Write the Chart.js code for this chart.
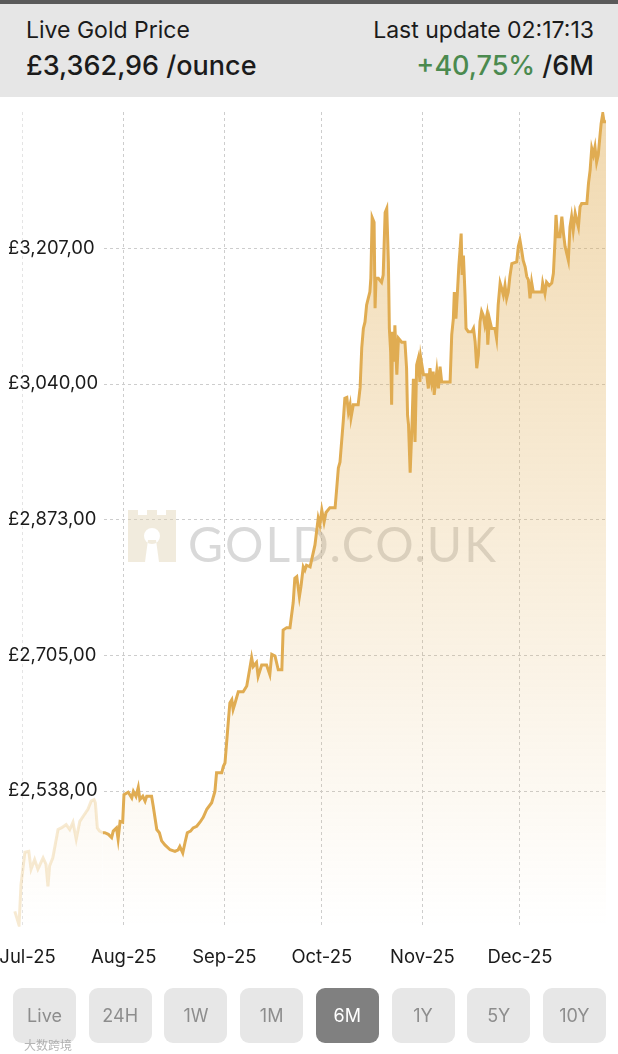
<!DOCTYPE html>
<html>
<head>
<meta charset="utf-8">
<script src="https://cdn.jsdelivr.net/npm/chart.js@4.4.1/dist/chart.umd.min.js"></script>
<style>
    body {
        margin: 0;
        width: 618px;
        height: 1054px;
        position: relative;
        overflow: hidden;
        background: #fff;
        font-family: Inter, "Noto Sans", sans-serif;
        color: #1b1b1b;
    }
    #topBar { position: absolute; left: 0; top: 0; width: 618px; height: 4px; background: #5a5a5a; }
    #header { position: absolute; left: 0; top: 4px; width: 618px; height: 93px; background: #e6e6e6; }
    .txt { position: absolute; white-space: nowrap; line-height: 1; }
    #title { left: 26px; top: 15px; font-size: 23px; }
    #price { left: 26px; top: 48px; font-size: 27px; font-weight: 500; }
    #updated { right: 24px; top: 15px; font-size: 23px; }
    #change { right: 24px; top: 48px; font-size: 27px; font-weight: 500; }
    #change .up { color: #4b8a4f; }
    #chartBox { position: absolute; left: 0; top: 97px; width: 618px; height: 892px; }
    #buttons {
        position: absolute; left: 13px; top: 988px; width: 593px; height: 55px;
        display: flex; justify-content: space-between;
    }
    .btn {
        width: 63px; height: 55px; border-radius: 9px; background: #e7e7e7;
        color: #8d8d8d; font-size: 18px; display: flex; align-items: center; justify-content: center;
    }
    .btn.active { background: #808080; color: #fff; }
    #source {
        position: absolute; left: 24px; top: 1036px; font-size: 12px;
        font-family: "Noto Sans CJK SC", sans-serif; color: rgba(150, 150, 150, 0.7);
    }
</style>
</head>
<body>
<div id="topBar"></div>
<div id="header">
    <div class="txt" id="title">Live Gold Price</div>
    <div class="txt" id="price">£3,362,96 /ounce</div>
    <div class="txt" id="updated">Last update 02:17:13</div>
    <div class="txt" id="change"><span class="up">+40,75%</span> /6M</div>
</div>
<div id="chartBox"><canvas id="chart" width="618" height="892"></canvas></div>
<div id="buttons"></div>
<div id="source">大数跨境</div>

<script>
// Days counted from 1 Jul 2025.
const days = [
    -2.5, -1.2, -0.6, 0.6, 1.8, 2.5, 3.6, 4.6, 6.2, 7.1, 7.7, 8.2, 9.2, 10.8, 11.8, 13.3, 14.4, 15.4, 16.4, 17.5,
    18.5, 20.0, 21.0, 21.9, 22.3, 22.9, 23.6, 24.6,
    25.2, 26.3, 27.3, 27.8, 28.8, 29.3, 29.9, 30.7, 31.1, 32.4, 33.5, 34.0, 34.8, 35.5, 36.0, 36.9, 37.6, 38.1,
    39.6, 40.1, 41.2, 42.0, 42.7, 43.7, 45.3, 46.8, 47.8, 48.3, 49.2, 49.9, 50.6, 51.6, 52.4, 53.5, 54.5, 55.5, 56.6,
    58.1, 59.1, 59.6, 61.2, 61.7, 62.2, 63.2, 63.7, 64.3, 64.7, 65.3, 66.3, 67.8, 68.9, 69.9, 70.4, 70.9, 71.9,
    72.4, 73.5, 75.0, 76.0, 76.6, 77.6, 78.6, 79.7, 80.1, 81.2, 82.2, 83.2, 83.7, 84.3, 85.1, 85.6, 86.3, 86.8,
    87.3, 88.4,
    89.9, 90.9, 91.4, 92.0, 92.7, 93.3, 94.5, 96.1, 96.6, 97.1, 97.6, 98.1, 98.6, 99.1, 99.7, 100.2, 100.7, 101.0,
    101.7, 103.2, 103.8, 104.3, 104.8, 105.3, 105.8, 106.3, 106.8, 107.1, 107.5, 108.1, 108.4, 108.7, 109.4,
    110.4, 110.9, 111.5, 112.0, 112.5, 112.8, 113.2, 113.5, 113.8, 114.2, 114.5, 115.1, 115.6, 116.6, 117.6,
    118.1, 118.4, 118.7, 119.2, 119.7, 120.2, 120.7, 121.2, 121.7, 122.2, 122.5, 123.3, 124.3, 124.8, 125.3,
    125.8, 126.3, 126.6, 127.4, 127.9, 128.4, 128.9, 131.5, 132.0, 132.5, 132.8, 133.3, 133.7, 134.2, 134.5,
    134.9, 135.2, 135.6, 136.1, 136.4, 137.1, 138.2, 138.7, 139.2, 139.7, 140.2, 140.7, 141.2, 141.7, 142.2,
    142.8, 143.1, 143.6, 144.3, 145.3, 145.8, 146.3, 146.9, 147.4, 147.9, 148.4, 148.9, 149.4, 149.9,
    150.5, 152.0, 152.5, 153.0, 153.5, 154.0, 154.6, 155.1, 155.6, 156.1, 156.6, 157.1, 159.7, 160.0, 160.7,
    161.2, 162.0, 162.8, 163.3, 163.8, 164.1, 164.6, 165.3, 165.9, 166.4, 166.9, 167.9, 168.4, 168.9, 169.4,
    170.0, 170.5, 171.0, 171.5, 172.0, 173.6, 174.1, 174.6, 175.1, 175.6, 176.1, 176.6, 177.1, 177.6, 178.0,
    178.5, 178.9, 179.5
];

// GBP per ounce.
const prices = [
    2389, 2372, 2422, 2462, 2463, 2441, 2453, 2441, 2455, 2447, 2420, 2445, 2455, 2490, 2492, 2496, 2490, 2499,
    2478, 2500, 2506, 2515, 2525, 2527, 2523, 2492, 2488, 2486,
    2486, 2484, 2480, 2488, 2492, 2478, 2500, 2499, 2533, 2536, 2529, 2537, 2531, 2542, 2527, 2531, 2525, 2531,
    2531, 2519, 2490, 2486, 2476, 2471, 2465, 2463, 2465, 2469, 2461, 2474, 2486, 2488, 2492, 2494, 2499, 2505, 2515,
    2523, 2537, 2560, 2560, 2568, 2572, 2622, 2646, 2650, 2638, 2646, 2660, 2660, 2667, 2690, 2702, 2691, 2696,
    2679, 2693, 2693, 2681, 2706, 2704, 2687, 2687, 2736, 2739, 2739, 2770, 2800, 2802, 2777, 2790, 2814, 2810,
    2816, 2814,
    2841, 2874, 2866, 2884, 2869, 2881, 2887, 2887, 2911, 2936, 2943, 2968, 2993, 3022, 3023, 3005, 3014, 2998,
    3014, 3014, 3035, 3084, 3108, 3116, 3137, 3145, 3153, 3170, 3245, 3239, 3133, 3170, 3170,
    3165, 3174, 3251, 3256, 3190, 3108, 3079, 3014, 3104, 3067, 3112, 3051, 3096, 3091, 3091,
    3059, 3001, 2989, 2930, 2981, 3046, 2968, 3063, 3071, 3042, 3071, 3051, 3051, 3034, 3059,
    3042, 3055, 3026, 3055, 3034, 3061, 3042, 3042, 3100, 3120, 3153, 3120, 3149, 3186, 3202,
    3225, 3174, 3198, 3149, 3108, 3104, 3104, 3108, 3092, 3059, 3075, 3116, 3129, 3124, 3112,
    3124, 3088, 3120, 3108, 3108, 3096, 3137, 3164, 3157, 3149, 3161, 3145, 3153, 3172,
    3188, 3190, 3209, 3217, 3205, 3192, 3184, 3172, 3168, 3145, 3165, 3153, 3153, 3164, 3151,
    3165, 3161, 3164, 3176, 3217, 3248, 3221, 3221, 3246, 3225, 3209, 3192, 3233, 3246, 3229,
    3250, 3241, 3233, 3258, 3262, 3262, 3287, 3303, 3330, 3322, 3332, 3313, 3322, 3344, 3361,
    3373, 3363, 3363
];

const monthStarts = [0, 31, 62, 92, 123, 153];
const monthLabels = ['Jul-25', 'Aug-25', 'Sep-25', 'Oct-25', 'Nov-25', 'Dec-25'];
const priceTicks = [2538, 2705, 2873, 3040, 3207];
const rangeButtons = ['Live', '24H', '1W', '1M', '6M', '1Y', '5Y', '10Y'];
const activeRange = '6M';

// Points before this day are drawn faded.
const FADE_UNTIL = 24.6;

const GOLD = 'rgb(224, 172, 82)';
const GOLD_FADED = 'rgba(224, 172, 82, 0.26)';

function priceLabel(v) {
    return '£' + Math.floor(v).toLocaleString('en-US') + ',00';
}

function monthLabel(i) {
    // first label is nudged right so it is not cut by the edge
    return i === 0 ? '\u2002' + monthLabels[i] : monthLabels[i];
}

function makeButtons() {
    const box = document.getElementById('buttons');
    rangeButtons.forEach((name) => {
        const b = document.createElement('div');
        b.className = name === activeRange ? 'btn active' : 'btn';
        b.textContent = name;
        box.appendChild(b);
    });
}

function fillGradient(context) {
    const { ctx, chartArea } = context.chart;
    if (!chartArea) return null;
    const g = ctx.createLinearGradient(0, chartArea.top, 0, chartArea.bottom);
    g.addColorStop(0, 'rgba(224, 172, 82, 0.46)');
    g.addColorStop(1, 'rgba(224, 172, 82, 0)');
    return g;
}

// dashed horizontal lines, starting right of the price labels
const priceGrid = {
    id: 'priceGrid',
    beforeDatasetsDraw(chart) {
        const { ctx, chartArea, scales } = chart;
        ctx.save();
        ctx.strokeStyle = '#cdcdcd';
        ctx.lineWidth = 1;
        ctx.setLineDash([3, 3]);
        scales.y.ticks.forEach((t) => {
            const y = Math.round(scales.y.getPixelForValue(t.value)) + 0.5;
            ctx.beginPath();
            ctx.moveTo(chartArea.left + 96, y);
            ctx.lineTo(chartArea.right, y);
            ctx.stroke();
        });
        ctx.restore();
    }
};

// GOLD.CO.UK watermark behind the line
const watermark = {
    id: 'watermark',
    beforeDatasetsDraw(chart) {
        const { ctx } = chart;
        const x = 128, y = 413, w = 48, h = 52;
        ctx.save();

        const p = new Path2D();
        p.moveTo(x, y);
        p.lineTo(x + 10, y);
        p.lineTo(x + 10, y + 5);
        p.lineTo(x + 19, y + 5);
        p.lineTo(x + 19, y);
        p.lineTo(x + 29, y);
        p.lineTo(x + 29, y + 5);
        p.lineTo(x + 38, y + 5);
        p.lineTo(x + 38, y);
        p.lineTo(x + w, y);
        p.lineTo(x + w, y + h);
        p.lineTo(x, y + h);
        p.closePath();
        // keyhole
        p.moveTo(x + 24 + 8, y + 26);
        p.arc(x + 24, y + 26, 8, 0, Math.PI * 2, true);
        p.moveTo(x + 20, y + 30);
        p.lineTo(x + 17, y + h);
        p.lineTo(x + 31, y + h);
        p.lineTo(x + 28, y + 30);
        p.closePath();
        ctx.fillStyle = 'rgba(225, 210, 180, 0.45)';
        ctx.fill(p, 'evenodd');

        ctx.font = '48px Lato';
        ctx.letterSpacing = '2px';
        ctx.fillStyle = 'rgba(150, 150, 150, 0.36)';
        ctx.textBaseline = 'alphabetic';
        ctx.fillText('GOLD.CO.UK', 188, y + h);
        ctx.restore();
    }
};

function renderChart() {
    Chart.defaults.font.family = 'Inter';

    const points = days.map((d, i) => ({ x: d, y: prices[i] }));

    const ctx = document.getElementById('chart');
    new Chart(ctx, {
        type: 'line',
        data: {
            datasets: [{
                data: points,
                borderColor: GOLD,
                borderWidth: 3,
                pointRadius: 0,
                tension: 0,
                fill: 'start',
                backgroundColor: fillGradient,
                segment: {
                    borderColor: (c) => c.p1.parsed.x <= FADE_UNTIL ? GOLD_FADED : GOLD
                }
            }]
        },
        options: {
            responsive: false,
            animation: false,
            events: [],
            layout: { autoPadding: false, padding: { left: 8, right: 11, top: 15, bottom: 0 } },
            plugins: {
                legend: { display: false },
                tooltip: { enabled: false }
            },
            scales: {
                x: {
                    type: 'linear',
                    min: -4.6,
                    max: 179.8,
                    afterBuildTicks: (scale) => {
                        scale.ticks = monthStarts.map((v) => ({ value: v }));
                    },
                    // month labels may hang past the left edge
                    afterFit: (scale) => {
                        scale.paddingLeft = 0;
                        scale.paddingRight = 0;
                    },
                    ticks: {
                        autoSkip: false,
                        maxRotation: 0,
                        padding: 20,
                        color: '#1b1b1b',
                        font: { size: 18.5 },
                        callback: (v, i) => monthLabel(i)
                    },
                    grid: {
                        drawTicks: false,
                        color: (c) => c.index === 0 ? '#e4e4e4' : '#cdcdcd',
                        lineWidth: 1
                    },
                    border: { display: false, dash: [3, 3] }
                },
                y: {
                    min: 2370,
                    max: 3375,
                    afterBuildTicks: (scale) => {
                        scale.ticks = priceTicks.map((v) => ({ value: v }));
                    },
                    afterFit: (scale) => {
                        scale.width = 0;
                    },
                    ticks: {
                        mirror: true,
                        padding: 0,
                        crossAlign: 'near',
                        color: '#1b1b1b',
                        font: { size: 18.5 },
                        callback: (v) => priceLabel(v)
                    },
                    grid: { display: false, drawTicks: false },
                    border: { display: false }
                }
            }
        },
        plugins: [priceGrid, watermark]
    });
}

makeButtons();
renderChart();
</script>
</body>
</html>
